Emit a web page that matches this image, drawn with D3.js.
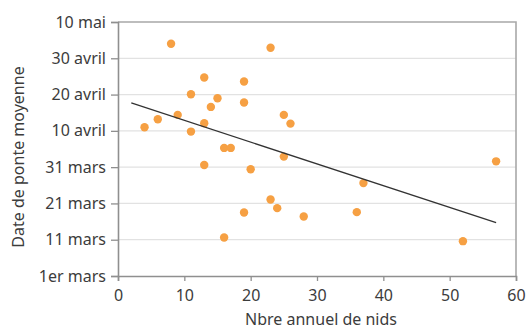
<!DOCTYPE html>
<html>
<head>
<meta charset="utf-8">
<script src="https://cdn.jsdelivr.net/npm/d3@7"></script>
<style>
  body { margin: 0; background: #fff; }
  text { font-family: "Noto Sans", "Open Sans", sans-serif; fill: #3c3c3c; }
</style>
</head>
<body>
<div id="chart"></div>
<script>
// nests per year vs mean laying date (days since 1 March)
var nests = [8, 23, 13, 19, 11, 15, 14, 19, 9, 6, 4, 13, 11, 16, 17, 13, 20, 23, 19, 16, 25, 26, 25, 57, 37, 24, 28, 36, 52];
var layDay = [64, 62.9, 54.7, 53.6, 50.1, 49, 46.6, 47.8, 44.4, 43.2, 41, 42.1, 39.8, 35.3, 35.3, 30.6, 29.4, 21.1, 17.5, 10.6, 44.4, 42, 32.9, 31.6, 25.6, 18.7, 16.4, 17.6, 9.6];

// regression line ends
var trendX = [2, 57];
var trendY = [47.7, 14.7];

var xTicks = [0, 10, 20, 30, 40, 50, 60];
var yTickDays = [0, 10, 20, 30, 40, 50, 60, 70];
var yTickLabels = ["1er mars", "11 mars", "21 mars", "31 mars", "10 avril", "20 avril", "30 avril", "10 mai"];

var width = 527, height = 330;
var margin = {top: 22, right: 11, bottom: 54, left: 118};
var w = width - margin.left - margin.right,
    h = height - margin.top - margin.bottom;

var svg = d3.select("#chart").append("svg")
    .attr("width", width)
    .attr("height", height);

var g = svg.append("g")
    .attr("transform", "translate(" + margin.left + "," + margin.top + ")");

var x = d3.scaleLinear().domain([0, 60]).range([0, w]);
var y = d3.scaleLinear().domain([0, 70]).range([h, 0]);

// gridlines
g.selectAll(".grid")
    .data(yTickDays.slice(1, -1))
    .enter().append("line")
    .attr("x1", 0).attr("x2", w)
    .attr("y1", function (d) { return y(d); })
    .attr("y2", function (d) { return y(d); })
    .attr("stroke", "#e2e2e2")
    .attr("stroke-width", 1.2);

// top and right frame
g.append("path")
    .attr("d", "M0," + y(70) + "H" + x(60) + "V" + y(0))
    .attr("fill", "none")
    .attr("stroke", "#a8a8a8")
    .attr("stroke-width", 1.6);

var xAxis = g.append("g")
    .attr("transform", "translate(0," + h + ")")
    .call(d3.axisBottom(x).tickValues(xTicks).tickSize(5).tickPadding(6));

var yAxis = g.append("g")
    .call(d3.axisLeft(y).tickValues(yTickDays).tickSize(7).tickPadding(5)
        .tickFormat(function (d, i) { return yTickLabels[i]; }));

[xAxis, yAxis].forEach(function (a) {
    a.select(".domain").attr("stroke", "#8f8f8f").attr("stroke-width", 1.6);
    a.selectAll(".tick line").attr("stroke", "#8f8f8f").attr("stroke-width", 1.3);
    a.selectAll(".tick text").style("font-size", "16px").attr("fill", "#3c3c3c");
});
xAxis.selectAll(".tick text").attr("dy", "0.85em");

// points
g.selectAll("circle")
    .data(nests)
    .enter().append("circle")
    .attr("cx", function (d) { return x(d); })
    .attr("cy", function (d, i) { return y(layDay[i]); })
    .attr("r", 4.2)
    .attr("fill", "#f6a043");

// trend line
var line = d3.line()
    .x(function (d) { return x(d); })
    .y(function (d, i) { return y(trendY[i]); });

g.append("path")
    .datum(trendX)
    .attr("d", line)
    .attr("fill", "none")
    .attr("stroke", "#333")
    .attr("stroke-width", 1.3);

// axis titles
svg.append("text")
    .attr("transform", "translate(24," + 157 + ") rotate(-90)")
    .attr("text-anchor", "middle")
    .style("font-size", "16px")
    .text("Date de ponte moyenne");

svg.append("text")
    .attr("x", 321)
    .attr("y", 325)
    .attr("text-anchor", "middle")
    .style("font-size", "16px")
    .text("Nbre annuel de nids");
</script>
</body>
</html>
